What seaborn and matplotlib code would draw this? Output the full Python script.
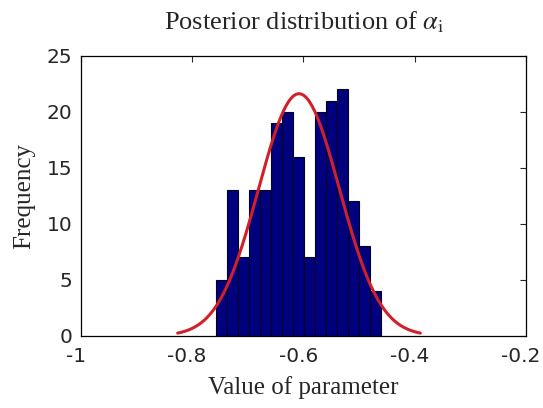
import numpy as np
import pandas as pd
import matplotlib
matplotlib.use("Agg")
import matplotlib.pyplot as plt
import matplotlib.transforms as mtransforms
import seaborn as sns

# Histogram data
bin_start = -0.757
bin_width = 0.0197
counts = [5, 13, 7, 13, 13, 19, 20, 16, 7, 20, 21, 22, 12, 8, 4]
# Fitted normal (histfit-style)
fit_mean = -0.608
fit_sd = 0.0727

x_ticks = [-1, -0.8, -0.6, -0.4, -0.2]
y_ticks = [0, 5, 10, 15, 20, 25]

sns.set_style("white")
plt.rcParams["font.family"] = ["DejaVu Sans"]
plt.rcParams["axes.unicode_minus"] = False
plt.rcParams["mathtext.fontset"] = "stix"

fig = plt.figure(figsize=(5.43, 4.08), dpi=100)
ax = fig.add_axes([0.149, 0.177, 0.8197, 0.686])

edges = bin_start + bin_width * np.arange(len(counts) + 1)
centers = (edges[:-1] + edges[1:]) / 2
df = pd.DataFrame({"value": centers, "count": counts})
sns.histplot(data=df, x="value", weights="count", bins=list(edges), ax=ax,
             color="#00007f", alpha=1.0, edgecolor="#000020", linewidth=0.8)

n = sum(counts)
xs = np.linspace(fit_mean - 3 * fit_sd, fit_mean + 3 * fit_sd, 200)
ys = n * bin_width / (fit_sd * np.sqrt(2 * np.pi)) * np.exp(-0.5 * ((xs - fit_mean) / fit_sd) ** 2)
sns.lineplot(x=xs, y=ys, ax=ax, color="#d0202a", linewidth=2.2)

ax.set_xlim(-1, -0.2)
ax.set_ylim(0, 25)
ax.set_xticks(x_ticks)
ax.set_xticklabels([f"{v:g}" for v in x_ticks])
ax.set_yticks(y_ticks)
ax.tick_params(direction="in", length=4, width=0.8, top=True, right=True,
               labelsize=14.5)
ax.tick_params(axis="x", pad=8)
ax.tick_params(axis="y", pad=6)
shift = mtransforms.ScaledTranslation(-5 / 100, 0, fig.dpi_scale_trans)
for lab in ax.get_xticklabels():
    lab.set_transform(lab.get_transform() + shift)
for s in ax.spines.values():
    s.set_color("black")
    s.set_linewidth(0.9)

ax.set_xlabel("Value of parameter", fontfamily="Liberation Serif", fontsize=18, labelpad=7)
ax.set_ylabel("Frequency", fontfamily="Liberation Serif", fontsize=18, labelpad=8)
ax.set_title(r"Posterior distribution of $\alpha_{\mathrm{i}}$", fontfamily="Liberation Serif",
             fontsize=19, pad=19)

fig.savefig("out.png", dpi=100, facecolor="white")
